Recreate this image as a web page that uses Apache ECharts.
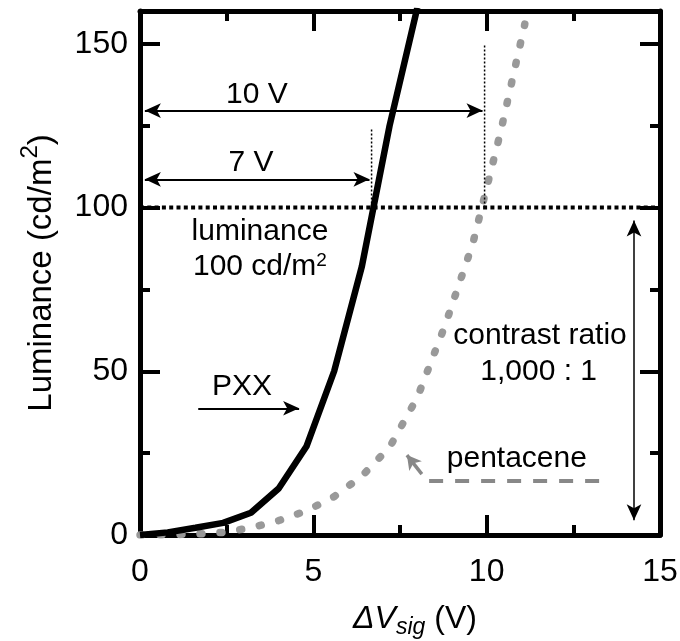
<!DOCTYPE html>
<html><head><meta charset="utf-8">
<script src="https://cdn.jsdelivr.net/npm/echarts@6/dist/echarts.min.js"></script>
<style>html,body{margin:0;padding:0;background:#fff}#c{width:680px;height:641px}</style>
</head><body><div id="c"></div>
<script>
// ---- data ----
const pxxX = [0, 0.8, 1.6, 2.4, 3.2, 4.0, 4.8, 5.6, 6.4, 7.2, 8.0];
const pxxY = [0, 0.8, 2.2, 3.7, 6.8, 14.2, 27, 50, 82, 125, 161];
const penX = [0, 0.8, 1.6, 2.4, 3.2, 4.0, 4.8, 5.6, 6.4, 7.2, 8.0, 8.8, 9.6, 10.4, 11.1];
const penY = [0, 0.1, 0.3, 0.8, 2.2, 4.4, 7.4, 11.7, 18.0, 26.8, 42, 64, 89, 123, 156];
const lumLevel = 100;
const levelX = [0, 15];
const markV = [6.68, 9.94];      // voltages where curves reach 100 cd/m2
const markTop = [124, 150];
// double arrows: [x0, y0, x1, y1]
const arrow10 = [0.14, 129.6, 9.88, 129.6];
const arrow7 = [0.14, 108.6, 6.62, 108.6];
const arrowCR = [14.25, 96, 14.25, 4.5];
// single arrows
const arrowPXX = [1.68, 38.7, 4.59, 38.7];
const arrowPen = [8.13, 18.6, 7.70, 24.4];
const penLegend = [8.34, 16.5, 13.3, 16.5];
// text labels
const textX = [3.37, 3.2, 3.46, 3.46, 2.94, 11.54, 11.5, 10.87];
const textY = [134.4, 113.6, 92.7, 82, 45.2, 60.9, 49.7, 23.2];
const textS = ['10 V', '7 V', 'luminance', '100 cd/m{sup|2}', 'PXX', 'contrast ratio', '1,000 : 1', 'pentacene'];

// ---- chart ----
const FONT = '"Liberation Sans", Arial, sans-serif';
const zip = (a, b) => a.map((v, i) => [v, b[i]]);
const chart = echarts.init(document.getElementById('c'), null, {renderer: 'canvas'});

const baseAxis = {
  type: 'value',
  splitLine: {show: false},
  axisLine: {show: true, onZero: false, lineStyle: {color: '#000', width: 5}},
  axisTick: {show: true, inside: true, length: 20, lineStyle: {color: '#000', width: 4}},
};

const option = {
  animation: false,
  backgroundColor: '#fff',
  textStyle: {fontFamily: FONT, color: '#000'},
  grid: {left: 140, right: 20, top: 11, bottom: 106, containLabel: false, outerBoundsMode: 'none'},
  xAxis: [
    Object.assign({}, baseAxis, {
      position: 'bottom', min: 0, max: 15, interval: 5,
      minorTick: {show: true, splitNumber: 2, length: 10, lineStyle: {color: '#000', width: 4}},
      axisLabel: {fontSize: 32, color: '#000', margin: 21, fontFamily: FONT},
      name: '{i|ΔV}{sub|sig}{n| (V)}', nameLocation: 'middle', nameGap: 68,
      nameTextStyle: {
        fontFamily: FONT, color: '#000', padding: [0, 0, 0, 30],
        rich: {
          i: {fontSize: 32, fontStyle: 'italic', fontFamily: FONT, color: '#000', lineHeight: 36, verticalAlign: 'top'},
          sub: {fontSize: 23, fontStyle: 'italic', fontFamily: FONT, color: '#000', lineHeight: 24, verticalAlign: 'bottom', padding: [16, 0, 0, 0]},
          n: {fontSize: 32, fontFamily: FONT, color: '#000', lineHeight: 36, verticalAlign: 'top'}
        }
      }
    }),
    Object.assign({}, baseAxis, {
      position: 'top', min: 0, max: 15, interval: 5,
      minorTick: {show: true, splitNumber: 2, length: 10, lineStyle: {color: '#000', width: 4}},
      axisLabel: {show: false}
    })
  ],
  yAxis: [
    Object.assign({}, baseAxis, {
      position: 'left', min: 0, max: 160, interval: 50,
      axisLabel: {fontSize: 32, color: '#000', margin: 12, showMaxLabel: false, fontFamily: FONT},
      name: '{n|Luminance (cd/m}{sup|2}{n|)}', nameLocation: 'middle', nameGap: 82,
      nameTextStyle: {
        fontFamily: FONT, color: '#000',
        rich: {
          n: {fontSize: 33, fontFamily: FONT, color: '#000', lineHeight: 40, verticalAlign: 'bottom'},
          sup: {fontSize: 24, fontFamily: FONT, color: '#000', lineHeight: 24, verticalAlign: 'top'}
        }
      }
    }),
    Object.assign({}, baseAxis, {
      position: 'left', min: 0, max: 160, interval: 25,
      axisLine: {show: false, onZero: false},
      axisTick: {show: true, inside: true, length: 10, lineStyle: {color: '#000', width: 4}},
      axisLabel: {show: false}
    }),
    Object.assign({}, baseAxis, {
      position: 'right', min: 0, max: 160, interval: 50,
      axisLabel: {show: false}
    }),
    Object.assign({}, baseAxis, {
      position: 'right', min: 0, max: 160, interval: 25,
      axisLine: {show: false, onZero: false},
      axisTick: {show: true, inside: true, length: 10, lineStyle: {color: '#000', width: 4}},
      axisLabel: {show: false}
    })
  ],
  series: [
    {
      name: 'pentacene', type: 'line', data: zip(penX, penY), showSymbol: false, symbol: 'none',
      clip: true, z: 2,
      lineStyle: {color: '#999999', width: 7.5, type: [2, 18], cap: 'round'}
    },
    {
      name: 'level', type: 'line', data: zip(levelX, levelX.map(() => lumLevel)), symbol: 'none', z: 3,
      lineStyle: {color: '#000', width: 4, type: [4, 3.3]},
      markLine: {
        silent: true, animation: false, symbol: ['arrow', 'arrow'], symbolSize: [11, 16],
        label: {show: false},
        lineStyle: {color: '#000', width: 2, type: 'solid'},
        data: [
          [{coord: [arrow10[0], arrow10[1]]}, {coord: [arrow10[2], arrow10[3]]}],
          [{coord: [arrow7[0], arrow7[1]]}, {coord: [arrow7[2], arrow7[3]]}],
          [{coord: [arrowCR[0], arrowCR[1]], lineStyle: {width: 1.5}}, {coord: [arrowCR[2], arrowCR[3]]}],
          [{coord: [arrowPXX[0], arrowPXX[1]], symbol: 'none'}, {coord: [arrowPXX[2], arrowPXX[3]], symbol: 'arrow'}],
          [{coord: [arrowPen[0], arrowPen[1]], symbol: 'none', lineStyle: {color: '#888', width: 3.5}, itemStyle: {color: '#888'}},
           {coord: [arrowPen[2], arrowPen[3]], symbol: 'arrow', symbolSize: [12, 14], itemStyle: {color: '#888'}}],
          [{coord: [penLegend[0], penLegend[1]], symbol: 'none', lineStyle: {color: '#888', width: 4, type: [14, 12]}},
           {coord: [penLegend[2], penLegend[3]], symbol: 'none'}]
        ]
      }
    },
    {
      name: 'v7', type: 'line', data: [[markV[0], lumLevel], [markV[0], markTop[0]]], symbol: 'none', z: 3,
      lineStyle: {color: '#000', width: 1.5, type: [2, 2]}
    },
    {
      name: 'v10', type: 'line', data: [[markV[1], lumLevel], [markV[1], markTop[1]]], symbol: 'none', z: 3,
      lineStyle: {color: '#000', width: 1.5, type: [2, 2]}
    },
    {
      name: 'PXX', type: 'line', data: zip(pxxX, pxxY), showSymbol: false, symbol: 'none', clip: true, z: 4,
      lineStyle: {color: '#000', width: 6.5}
    },
    {
      name: 'labels', type: 'scatter', symbolSize: 0, z: 5, silent: true,
      itemStyle: {opacity: 1, color: '#000'},
      emphasis: {disabled: true},
      data: textX.map((x, i) => ({value: [x, textY[i]], name: textS[i]})),
      label: {
        show: true, position: 'inside', formatter: p => p.name, opacity: 1,
        fontSize: 30, color: '#000', fontFamily: FONT, textBorderWidth: 0,
        rich: {
          sup: {fontSize: 19, color: '#000', fontFamily: FONT, verticalAlign: 'top', lineHeight: 19}
        }
      }
    }
  ]
};
chart.setOption(option);
</script>
</body></html>
